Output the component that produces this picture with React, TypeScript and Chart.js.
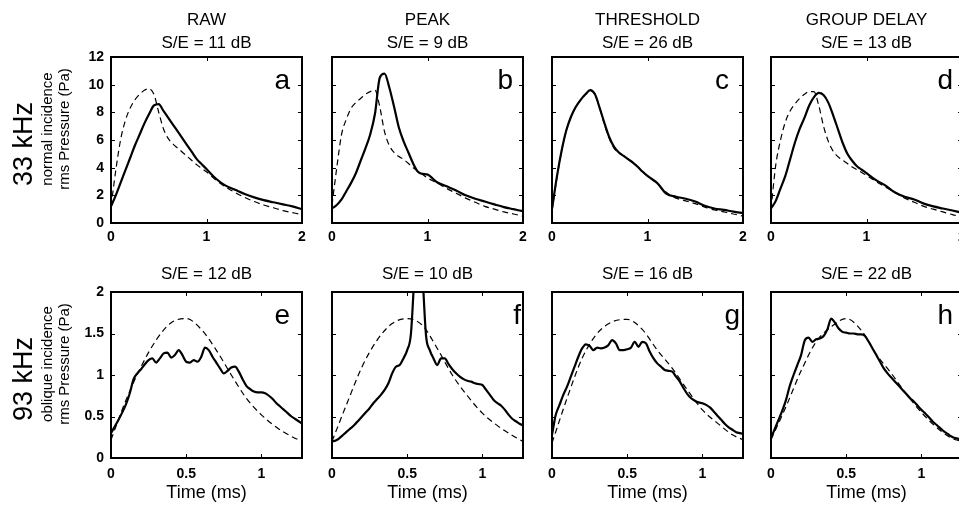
import React, { useEffect, useRef } from "react";
import { Chart, registerables } from "chart.js";

Chart.register(...registerables);

const FONT = '"Liberation Sans", Arial, Helvetica, sans-serif';

// ---------- tick values ----------
const topXTicks = [0, 1, 2];
const topYTicks = [0, 2, 4, 6, 8, 10, 12];
const botXTicks = [0, 0.5, 1];
const botYTicks = [0, 0.5, 1, 1.5, 2];

// ---------- time axes (ms) ----------
const topTime = [0, 0.05, 0.1, 0.15, 0.2, 0.25, 0.3, 0.35, 0.4, 0.45, 0.5, 0.55, 0.6, 0.65, 0.7, 0.75, 0.8, 0.85, 0.9, 0.95, 1.0,
  1.1, 1.2, 1.3, 1.4, 1.5, 1.6, 1.7, 1.8, 1.9, 2.0];
const botTimeFine = [0, 0.025, 0.05, 0.075, 0.1, 0.125, 0.15, 0.175, 0.2, 0.225, 0.25, 0.275, 0.3, 0.325, 0.35, 0.375, 0.4,
  0.425, 0.45, 0.475, 0.5, 0.525, 0.55, 0.575, 0.6, 0.625, 0.65, 0.675, 0.7, 0.725, 0.75, 0.775, 0.8, 0.825, 0.85, 0.875,
  0.9, 0.925, 0.95, 0.975, 1, 1.025, 1.05, 1.075, 1.1, 1.125, 1.15, 1.175, 1.2, 1.225, 1.25, 1.275];
const botTimeCoarse = [0, 0.1, 0.2, 0.3, 0.4, 0.5, 0.6, 0.7, 0.8, 0.9, 1.0, 1.1, 1.2, 1.27];

// ---------- 33 kHz, normal incidence (Pa) ----------
const aSolid = [1.2, 2.0, 2.9, 3.8, 4.7, 5.6, 6.4, 7.2, 7.9, 8.5, 8.6, 8.1, 7.6, 7.1, 6.6, 6.1, 5.6, 5.1, 4.6, 4.25, 3.9,
  3.2, 2.7, 2.4, 2.1, 1.85, 1.65, 1.5, 1.35, 1.2, 1.0];
const aDashed = [1.2, 3.8, 6.0, 7.4, 8.3, 8.9, 9.3, 9.6, 9.7, 9.3, 8.0, 6.8, 6.1, 5.7, 5.4, 5.1, 4.8, 4.5, 4.2, 3.95, 3.7,
  3.1, 2.6, 2.2, 1.85, 1.55, 1.3, 1.1, 0.9, 0.75, 0.6];
const bSolid = [1.05, 1.3, 1.7, 2.3, 2.9, 3.6, 4.5, 5.4, 6.4, 7.9, 10.5, 10.8, 9.8, 8.4, 6.9, 5.9, 5.1, 4.3, 3.7, 3.55, 3.5,
  2.95, 2.65, 2.35, 2.0, 1.75, 1.55, 1.35, 1.15, 1.0, 0.85];
const bDashed = [1.3, 4.0, 6.4, 7.5, 8.3, 8.7, 9.0, 9.3, 9.5, 9.6, 8.4, 6.6, 5.6, 5.1, 4.8, 4.6, 4.3, 4.0, 3.75, 3.5, 3.25,
  2.9, 2.5, 2.15, 1.8, 1.5, 1.2, 1.0, 0.8, 0.65, 0.5];
const cSolid = [1.0, 3.3, 5.2, 6.7, 7.7, 8.4, 8.9, 9.3, 9.6, 9.3, 8.3, 7.2, 6.2, 5.5, 5.1, 4.85, 4.6, 4.35, 4.05, 3.7, 3.4,
  2.9, 2.1, 1.9, 1.75, 1.55, 1.25, 1.05, 0.95, 0.82, 0.72];
const cDashed = [0.9, 3.2, 5.2, 6.7, 7.7, 8.4, 8.9, 9.3, 9.6, 9.3, 8.3, 7.1, 6.1, 5.4, 5.1, 4.85, 4.6, 4.35, 4.05, 3.7, 3.4,
  2.85, 2.2, 1.8, 1.6, 1.4, 1.15, 0.95, 0.8, 0.65, 0.5];
const dSolid = [1.05, 1.6, 2.5, 3.4, 4.6, 5.8, 6.8, 7.6, 8.5, 9.1, 9.4, 9.25, 8.7, 7.8, 6.8, 5.8, 5.0, 4.5, 4.1, 3.85, 3.6,
  3.1, 2.7, 2.2, 1.9, 1.7, 1.4, 1.2, 1.05, 0.9, 0.75];
const dDashed = [1.0, 4.2, 6.0, 7.3, 8.1, 8.6, 9.0, 9.3, 9.5, 9.5, 8.5, 7.0, 5.9, 5.2, 4.8, 4.55, 4.3, 4.05, 3.85, 3.65, 3.45,
  3.0, 2.6, 2.2, 1.8, 1.5, 1.2, 1.0, 0.8, 0.6, 0.45];

// ---------- 93 kHz, oblique incidence (Pa) ----------
const eSolid = [0.3, 0.38, 0.46, 0.55, 0.65, 0.78, 0.95, 1.02, 1.07, 1.13, 1.18, 1.2, 1.15, 1.2, 1.26, 1.27, 1.21, 1.24,
  1.3, 1.24, 1.16, 1.15, 1.18, 1.16, 1.22, 1.33, 1.3, 1.22, 1.15, 1.08, 1.02, 1.05, 1.09, 1.1, 1.04, 0.95, 0.87, 0.83, 0.8,
  0.79, 0.79, 0.78, 0.75, 0.71, 0.66, 0.62, 0.58, 0.54, 0.5, 0.47, 0.44, 0.41];
const eDashed = [0.22, 0.7, 1.1, 1.42, 1.63, 1.68, 1.55, 1.3, 1.0, 0.72, 0.52, 0.37, 0.26, 0.2];
const fSolid = [0.2, 0.21, 0.24, 0.28, 0.32, 0.36, 0.4, 0.45, 0.5, 0.55, 0.6, 0.66, 0.71, 0.76, 0.82, 0.9, 1.02, 1.1, 1.12,
  1.2, 1.3, 1.5, 2.3, 3.2, 2.3, 1.48, 1.3, 1.2, 1.12, 1.2, 1.2, 1.13, 1.07, 1.02, 0.98, 0.95, 0.93, 0.92, 0.9, 0.89, 0.88,
  0.82, 0.76, 0.7, 0.66, 0.63, 0.58, 0.52, 0.47, 0.44, 0.41, 0.39];
const fDashed = [0.2, 0.66, 1.1, 1.42, 1.62, 1.68, 1.6, 1.32, 1.0, 0.75, 0.54, 0.39, 0.27, 0.2];
const gSolid = [0.28, 0.52, 0.64, 0.76, 0.86, 0.98, 1.1, 1.22, 1.32, 1.37, 1.35, 1.3, 1.33, 1.32, 1.33, 1.36, 1.42, 1.38,
  1.3, 1.3, 1.31, 1.33, 1.4, 1.34, 1.4, 1.38, 1.28, 1.2, 1.14, 1.1, 1.06, 1.05, 1.04, 0.98, 0.92, 0.84, 0.77, 0.72, 0.69,
  0.67, 0.66, 0.64, 0.61, 0.56, 0.51, 0.46, 0.41, 0.37, 0.34, 0.31, 0.3, 0.29];
const gDashed = [0.18, 0.72, 1.2, 1.5, 1.64, 1.67, 1.55, 1.3, 1.08, 0.82, 0.58, 0.42, 0.28, 0.22];
const hSolid = [0.24, 0.35, 0.46, 0.57, 0.7, 0.87, 1.0, 1.12, 1.24, 1.42, 1.45, 1.4, 1.43, 1.44, 1.47, 1.55, 1.68, 1.63,
  1.56, 1.52, 1.51, 1.5, 1.5, 1.49, 1.49, 1.47, 1.4, 1.32, 1.24, 1.16, 1.08, 1.02, 0.97, 0.92, 0.87, 0.82, 0.77, 0.72, 0.68,
  0.63, 0.58, 0.54, 0.49, 0.44, 0.4, 0.36, 0.32, 0.29, 0.26, 0.24, 0.23, 0.22];
const hDashed = [0.22, 0.62, 1.05, 1.4, 1.58, 1.68, 1.54, 1.25, 1.02, 0.77, 0.55, 0.37, 0.24, 0.2];

// ---------- layout ----------
const COL_LEFT = [111, 332, 552, 771];
const ROW_TOP = [57, 292];
const PLOT_W = 191;
const PLOT_H = 166;
const LEFT_M = 111;
const RIGHT_M = 16;
const TOP_M = [57, 42];
const BOT_M = [30, 50];
const X_TICK_PAD = [6, 8];
const Y_AXIS_W = 40;

type Panel = {
  letter: string;
  row: number;
  col: number;
  title: string[];
  solid: number[];
  dashed: number[];
  inset: number;
};

const rowLabels = [
  { big: "33 kHz", small: ["normal incidence", "rms Pressure (Pa)"] },
  { big: "93 kHz", small: ["oblique incidence", "rms Pressure (Pa)"] },
];

const panels: Panel[] = [
  { letter: "a", row: 0, col: 0, title: ["RAW", "S/E = 11 dB"], solid: aSolid, dashed: aDashed, inset: 12 },
  { letter: "b", row: 0, col: 1, title: ["PEAK", "S/E = 9 dB"], solid: bSolid, dashed: bDashed, inset: 10 },
  { letter: "c", row: 0, col: 2, title: ["THRESHOLD", "S/E = 26 dB"], solid: cSolid, dashed: cDashed, inset: 14 },
  { letter: "d", row: 0, col: 3, title: ["GROUP DELAY", "S/E = 13 dB"], solid: dSolid, dashed: dDashed, inset: 9 },
  { letter: "e", row: 1, col: 0, title: ["S/E = 12 dB"], solid: eSolid, dashed: eDashed, inset: 12 },
  { letter: "f", row: 1, col: 1, title: ["S/E = 10 dB"], solid: fSolid, dashed: fDashed, inset: 2 },
  { letter: "g", row: 1, col: 2, title: ["S/E = 16 dB"], solid: gSolid, dashed: gDashed, inset: 3 },
  { letter: "h", row: 1, col: 3, title: ["S/E = 22 dB"], solid: hSolid, dashed: hDashed, inset: 9 },
];

function drawRotated(ctx: CanvasRenderingContext2D, text: string, x: number, y: number, font: string) {
  ctx.save();
  ctx.translate(x, y);
  ctx.rotate(-Math.PI / 2);
  ctx.font = font;
  ctx.textAlign = "center";
  ctx.textBaseline = "alphabetic";
  ctx.fillText(text, 0, 0);
  ctx.restore();
}

function panelPlugin(p: Panel) {
  return {
    id: "panelDecor",
    afterDatasetsDraw(chart: any) {
      const { ctx, chartArea: a, scales } = chart;
      ctx.save();
      ctx.strokeStyle = "#000";
      ctx.fillStyle = "#000";
      ctx.lineWidth = 2;
      ctx.strokeRect(a.left, a.top, a.right - a.left, a.bottom - a.top);
      ctx.lineWidth = 1;
      const L = 4;
      ctx.beginPath();
      for (const t of scales.x.ticks) {
        const px = Math.round(scales.x.getPixelForValue(t.value)) + 0.5;
        ctx.moveTo(px, a.bottom);
        ctx.lineTo(px, a.bottom - L);
        ctx.moveTo(px, a.top);
        ctx.lineTo(px, a.top + L);
      }
      for (const t of scales.y.ticks) {
        const py = Math.round(scales.y.getPixelForValue(t.value)) + 0.5;
        ctx.moveTo(a.left, py);
        ctx.lineTo(a.left + L, py);
        ctx.moveTo(a.right, py);
        ctx.lineTo(a.right - L, py);
      }
      ctx.stroke();
      // panel letter
      ctx.font = `28px ${FONT}`;
      ctx.textAlign = "right";
      ctx.textBaseline = "alphabetic";
      ctx.fillText(p.letter, a.right - p.inset, a.top + 32);
      // row labels
      if (p.col === 0) {
        const cy = (a.top + a.bottom) / 2;
        const lab = rowLabels[p.row];
        drawRotated(ctx, lab.big, 32, cy + 4, `27px ${FONT}`);
        drawRotated(ctx, lab.small[0], 52, cy - 11, `15px ${FONT}`);
        drawRotated(ctx, lab.small[1], 69, cy - 11, `15px ${FONT}`);
      }
      ctx.restore();
    },
  };
}

function buildConfig(p: Panel): any {
  const isTop = p.row === 0;
  const solidT = isTop ? topTime : botTimeFine;
  const dashT = isTop ? topTime : botTimeCoarse;
  const xTicks = isTop ? topXTicks : botXTicks;
  const yTicks = isTop ? topYTicks : botYTicks;
  return {
    type: "line",
    data: {
      datasets: [
        {
          label: "measured",
          data: solidT.map((t, i) => ({ x: t, y: p.solid[i] })),
          borderColor: "#000",
          borderWidth: 2.2,
          pointRadius: 0,
          cubicInterpolationMode: "monotone",
          fill: false,
        },
        {
          label: "reference",
          data: dashT.map((t, i) => ({ x: t, y: p.dashed[i] })),
          borderColor: "#000",
          borderWidth: 1.2,
          borderDash: [6, 4],
          pointRadius: 0,
          cubicInterpolationMode: "monotone",
          fill: false,
        },
      ],
    },
    options: {
      responsive: false,
      animation: false,
      devicePixelRatio: 1,
      events: [],
      layout: { padding: { left: LEFT_M - Y_AXIS_W, right: RIGHT_M, top: 0, bottom: 0 } },
      plugins: {
        legend: { display: false },
        tooltip: { enabled: false },
        title: {
          display: true,
          text: p.title,
          color: "#000",
          fullSize: false,
          font: { family: FONT, size: 17, weight: "normal", lineHeight: "23px" },
          padding: isTop ? { top: 8.5, bottom: 2.5 } : { top: 12.5, bottom: 6.5 },
        },
      },
      scales: {
        x: {
          type: "linear",
          min: 0,
          max: isTop ? 2 : 1.27,
          afterBuildTicks: (s: any) => {
            s.ticks = xTicks.map((v) => ({ value: v }));
          },
          afterFit: (s: any) => {
            s.height = BOT_M[p.row];
          },
          grid: { display: false, drawTicks: false },
          border: { display: false },
          ticks: {
            color: "#000",
            font: { family: FONT, size: 14, weight: "bold" },
            padding: X_TICK_PAD[p.row],
            autoSkip: false,
            maxRotation: 0,
            callback: (v: any) => String(v),
          },
          title: isTop
            ? { display: false }
            : {
                display: true,
                text: "Time (ms)",
                color: "#000",
                font: { family: FONT, size: 18 },
                padding: { top: 0, bottom: 4 },
              },
        },
        y: {
          type: "linear",
          min: 0,
          max: isTop ? 12 : 2,
          afterBuildTicks: (s: any) => {
            s.ticks = yTicks.map((v) => ({ value: v }));
          },
          afterFit: (s: any) => {
            s.width = Y_AXIS_W;
          },
          grid: { display: false, drawTicks: false },
          border: { display: false },
          ticks: {
            display: p.col === 0,
            color: "#000",
            font: { family: FONT, size: 14, weight: "bold" },
            padding: 7,
            callback: (v: any) => String(v),
          },
        },
      },
    },
    plugins: [panelPlugin(p)],
  };
}

function PanelChart({ p }: { p: Panel }) {
  const ref = useRef<HTMLCanvasElement | null>(null);
  const w = LEFT_M + PLOT_W + RIGHT_M;
  const h = TOP_M[p.row] + PLOT_H + BOT_M[p.row];
  const left = COL_LEFT[p.col] - LEFT_M;
  const top = ROW_TOP[p.row] - TOP_M[p.row];
  useEffect(() => {
    if (!ref.current) return;
    const chart = new Chart(ref.current, buildConfig(p));
    return () => chart.destroy();
  }, [p]);
  return (
    <canvas
      ref={ref}
      width={w}
      height={h}
      style={{ position: "absolute", left, top, width: w, height: h, display: "block" }}
    />
  );
}

export default function App() {
  return (
    <div
      style={{
        position: "fixed",
        left: 0,
        top: 0,
        width: 959,
        height: 508,
        overflow: "hidden",
        background: "#fff",
      }}
    >
      {panels.map((p) => (
        <PanelChart key={p.letter} p={p} />
      ))}
    </div>
  );
}
